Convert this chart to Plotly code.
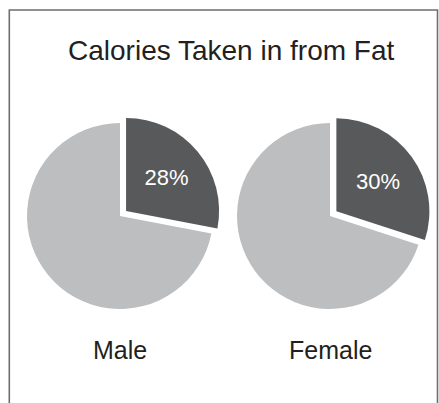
import plotly.graph_objects as go

# Data
groups = ["Male", "Female"]
slice_labels = ["Fat", "Other"]
fat_pct = [28, 30]
other_pct = [72, 70]
text_labels = ["28%", "30%"]

title_text = "Calories Taken in from Fat"

W, H = 439, 403
DARK = "#58595b"
LIGHT = "#bcbec0"
FONT = "Liberation Sans, Arial, sans-serif"

fig = go.Figure()

# Pie geometry (pixel centers and radius)
centers_x = [120, 330]
center_y = 216
radius = 93
pull = 0.085
half = radius * (1 + pull)

for i, g in enumerate(groups):
    cx = centers_x[i]
    fig.add_trace(go.Pie(
        labels=slice_labels,
        values=[fat_pct[i], other_pct[i]],
        text=[text_labels[i], ""],
        textinfo="text",
        textposition="inside",
        insidetextorientation="horizontal",
        textfont=dict(color="white", size=22, family=FONT),
        marker=dict(colors=[DARK, LIGHT], line=dict(width=0)),
        pull=[pull, 0],
        sort=False,
        direction="clockwise",
        rotation=0,
        hoverinfo="skip",
        showlegend=False,
        name=g,
        domain=dict(
            x=[(cx - half) / W, (cx + half) / W],
            y=[1 - (center_y + half) / H, 1 - (center_y - half) / H],
        ),
    ))

annotations = [
    dict(text=title_text, x=231 / W, y=1 - 51 / H, xref="paper", yref="paper",
         xanchor="center", yanchor="middle", showarrow=False,
         font=dict(size=28, color="#231f20", family=FONT)),
]
for i, g in enumerate(groups):
    annotations.append(dict(
        text=g, x=centers_x[i] / W, y=1 - 350 / H, xref="paper", yref="paper",
        xanchor="center", yanchor="middle", showarrow=False,
        font=dict(size=25, color="#231f20", family=FONT)))

fig.update_layout(
    width=W, height=H,
    margin=dict(l=0, r=0, t=0, b=0),
    paper_bgcolor="white",
    plot_bgcolor="white",
    annotations=annotations,
    shapes=[dict(type="rect", xref="paper", yref="paper",
                 x0=9.3 / W, x1=437.5 / W, y0=-0.05, y1=1 - 10 / H,
                 line=dict(color="#6d6e71", width=1.6))],
)

fig.write_html(
    "out.html",
    config={"displayModeBar": False},
    post_script="document.body.style.margin='0';document.body.style.overflow='hidden';",
)
